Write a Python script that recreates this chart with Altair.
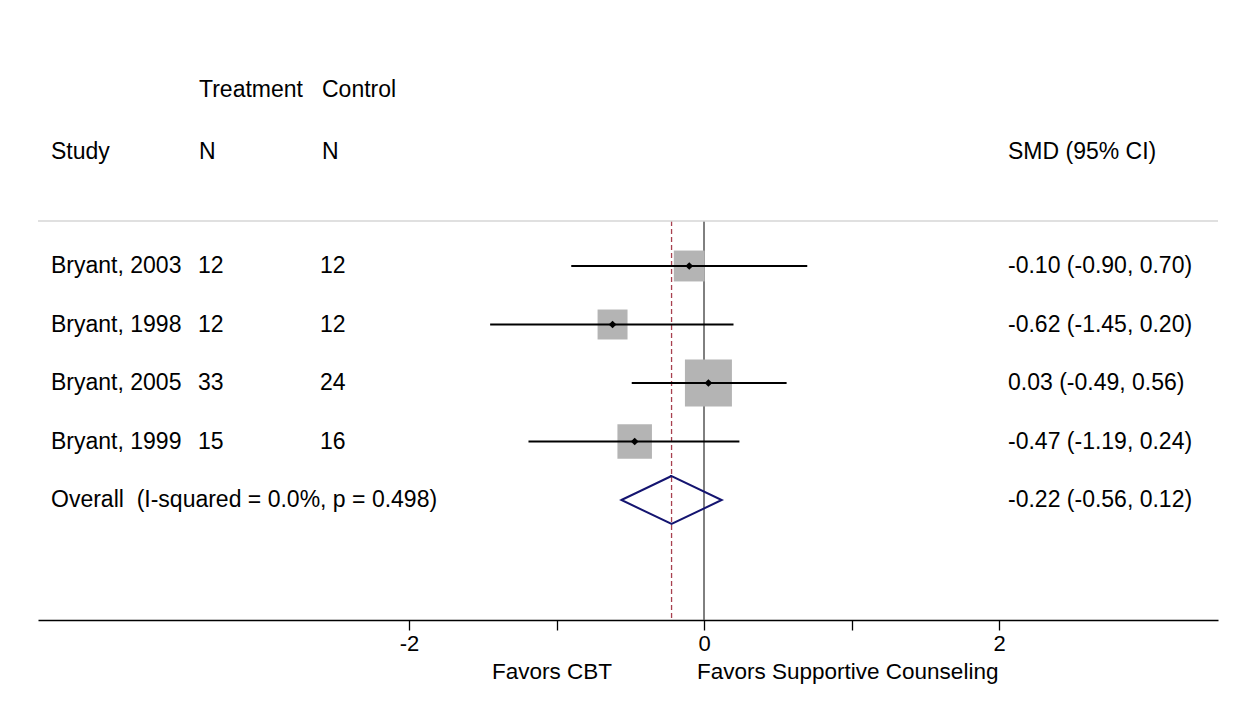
import altair as alt
import pandas as pd

# ---- data ----
studies = ["Bryant, 2003", "Bryant, 1998", "Bryant, 2005", "Bryant, 1999"]
treat_n = [12, 12, 33, 15]
ctrl_n = [12, 12, 24, 16]
smd = [-0.10, -0.62, 0.03, -0.47]
ci_lo = [-0.90, -1.45, -0.49, -1.19]
ci_hi = [0.70, 0.20, 0.56, 0.24]
weights = [18.2, 17.1, 42.1, 22.7]  # % weight (square area)

overall_label = "Overall\u00a0 (I-squared = 0.0%, p = 0.498)"
overall_est, overall_lo, overall_hi = -0.22, -0.56, 0.12

x_ticks = [-2, -1, 0, 1, 2]
favors_left = "Favors CBT"
favors_right = "Favors Supportive Counseling"

# ---- layout ----
W, H = 1180, 612
FONT = "Liberation Sans"
FS = 23
ROW_PX, FIRST_ROW_PX = 58.5, 258
x_dom = [-4.5153, 3.4847]
y_dom = [1 - FIRST_ROW_PX / ROW_PX, 1 + (H - FIRST_ROW_PX) / ROW_PX]
LINE_TOP = 213

n = len(studies)
df = pd.DataFrame({
    "study": studies, "tn": treat_n, "cn": ctrl_n, "smd": smd,
    "lo": ci_lo, "hi": ci_hi, "w": weights, "row": list(range(1, n + 1)),
})
df["lab"] = [f"{a:.2f} ({b:.2f}, {c:.2f})" for a, b, c in zip(smd, ci_lo, ci_hi)]

ov_row = n + 1
ov = pd.DataFrame({
    "study": [overall_label], "row": [ov_row],
    "lab": [f"{overall_est:.2f} ({overall_lo:.2f}, {overall_hi:.2f})"],
})
labels_all = pd.concat([df[["study", "row", "lab"]], ov], ignore_index=True)

h = 24 / ROW_PX
diamond = pd.DataFrame({
    "x": [overall_lo, overall_est, overall_hi, overall_est, overall_lo, overall_est],
    "r": [ov_row, ov_row - h, ov_row, ov_row + h, ov_row, ov_row - h],
    "o": list(range(6)),
})
refs = pd.DataFrame({"v": [0.0]})
ovline = pd.DataFrame({"v": [overall_est]})

xscale = alt.Scale(domain=x_dom, nice=False, zero=False)
yscale = alt.Scale(domain=y_dom, nice=False, zero=False, reverse=True)
xaxis = alt.Axis(values=x_ticks, grid=False, title=None, tickSize=10,
                 tickColor="black", domainColor="black", tickWidth=1.3,
                 domainWidth=1.3, labelFont=FONT, labelFontSize=22,
                 labelColor="black", labelPadding=3,
                 labelExpr="datum.value % 2 == 0 ? '' + datum.value : ''")


def X(f):
    return alt.X(f, type="quantitative", scale=xscale, axis=xaxis)


def Y(f):
    return alt.Y(f, type="quantitative", scale=yscale, axis=None)


zero_line = alt.Chart(refs).mark_rule(color="#555555", strokeWidth=1.5).encode(
    x=X("v"), y=alt.value(LINE_TOP), y2=alt.value(H))
ov_line = alt.Chart(ovline).mark_rule(color="#a8404f", strokeWidth=1.3,
                                      strokeDash=[5, 3]).encode(
    x=X("v"), y=alt.value(LINE_TOP), y2=alt.value(H))
top_rule = alt.Chart(refs).mark_rule(color="#d6d6d6", strokeWidth=1.5).encode(
    x=alt.value(0), x2=alt.value(W), y=alt.value(LINE_TOP))

squares = alt.Chart(df).mark_square(color="#b4b4b4", opacity=1, filled=True).encode(
    x=X("smd"), y=Y("row"),
    size=alt.Size("w:Q", scale=alt.Scale(domain=[0, 42.1], range=[0, 2209]),
                  legend=None))
cis = alt.Chart(df).mark_rule(color="black", strokeWidth=2).encode(
    x=X("lo"), x2="hi", y=Y("row"))
pts = alt.Chart(df).mark_point(shape="diamond", filled=True, color="black",
                               opacity=1, size=60).encode(x=X("smd"), y=Y("row"))
dia = alt.Chart(diamond).mark_line(color="#141470", strokeWidth=2,
                                   strokeJoin="miter").encode(
    x=X("x"), y=Y("r"), order="o:Q")


def txt(data, field, xpx, align="left"):
    return alt.Chart(data).mark_text(align=align, baseline="middle", font=FONT,
                                     fontSize=FS, color="black").encode(
        x=alt.value(xpx), y=Y("row"), text=field)


t_study = txt(labels_all, "study:N", 13)
t_tn = txt(df, "tn:N", 160)
t_cn = txt(df, "cn:N", 282)
t_lab = txt(labels_all, "lab:N", 970)


def head(s, xpx, ypx, align="left", fs=FS):
    return alt.Chart(refs).mark_text(text=s, align=align, baseline="middle",
                                     font=FONT, fontSize=fs, color="black").encode(
        x=alt.value(xpx), y=alt.value(ypx))


heads = [
    head("Treatment", 161, 82), head("Control", 284, 82),
    head("Study", 13, 144), head("N", 161, 144), head("N", 284, 144),
    head("SMD (95% CI)", 970, 144),
    head(favors_left, 574, 664, "right", 22.5), head(favors_right, 659, 664, "left", 22.5),
]

chart = alt.layer(zero_line, ov_line, top_rule, squares, cis, pts, dia,
                  t_study, t_tn, t_cn, t_lab, *heads).properties(
    width=W, height=H,
    autosize=alt.AutoSizeParams(type="none"),
    padding={"left": 30, "top": 0, "right": 12, "bottom": 70},
    background="white",
).configure_view(strokeWidth=0)

chart.save("out.html", embed_options={"renderer": "svg", "actions": False})
